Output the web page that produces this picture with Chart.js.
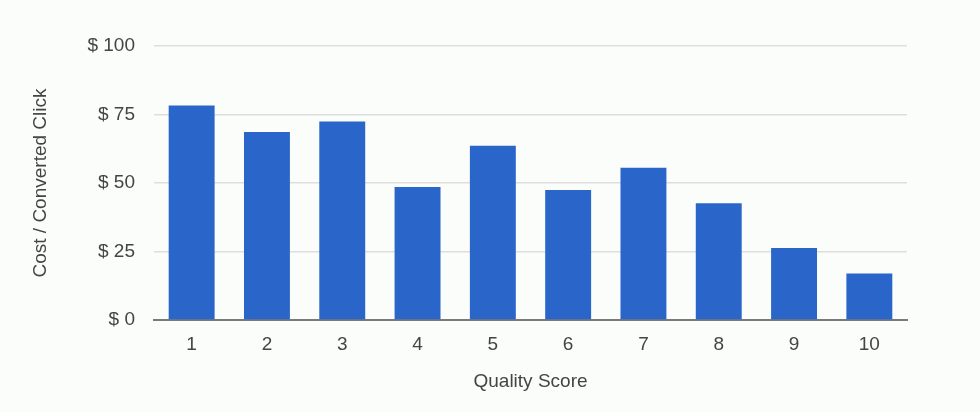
<!DOCTYPE html>
<html>
<head>
<meta charset="utf-8">
<script src="https://cdn.jsdelivr.net/npm/chart.js@4"></script>
<style>
  html, body { margin: 0; padding: 0; background: #fbfdfb; }
  #wrap { width: 980px; height: 412px; }
</style>
</head>
<body>
<div id="wrap"><canvas id="chart"></canvas></div>
<script>
// Data
const qualityScores = ["1", "2", "3", "4", "5", "6", "7", "8", "9", "10"]
const costPerClick = [78.3, 68.6, 72.4, 48.5, 63.6, 47.4, 55.6, 42.6, 26.3, 17]
const yTicks = [0, 25, 50, 75, 100]

const font = { family: "'Liberation Sans', Arial, sans-serif", size: 19 }
const textColor = "#444"

new Chart(document.getElementById("chart"), {
  type: "bar",
  data: {
    labels: qualityScores,
    datasets: [{
      data: costPerClick,
      backgroundColor: "#2a66c9",
      borderWidth: 0,
      categoryPercentage: 1,
      barPercentage: 0.61
    }]
  },
  options: {
    responsive: true,
    maintainAspectRatio: false,
    animation: false,
    layout: { padding: { left: 25, right: 73, top: 46, bottom: 15 } },
    plugins: { legend: { display: false }, tooltip: { enabled: false } },
    scales: {
      x: {
        grid: { display: false, drawTicks: false },
        border: { color: "#7a7a7a", width: 2 },
        ticks: { color: textColor, font, padding: 13 },
        title: { display: true, text: "Quality Score", color: textColor, font },
        afterFit: s => { s.height = 412 - 15 - 320 }
      },
      y: {
        min: 0,
        max: 100,
        grid: { color: "#dedede", lineWidth: 1.5, drawTicks: false },
        border: { display: false },
        afterBuildTicks: s => { s.ticks = yTicks.map(v => ({ value: v })) },
        ticks: { color: textColor, font, padding: 19, callback: v => "$ " + v },
        title: { display: true, text: "Cost / Converted Click", color: textColor, font },
        afterFit: s => { s.width = 154 - 25 }
      }
    }
  }
})
</script>
</body>
</html>
